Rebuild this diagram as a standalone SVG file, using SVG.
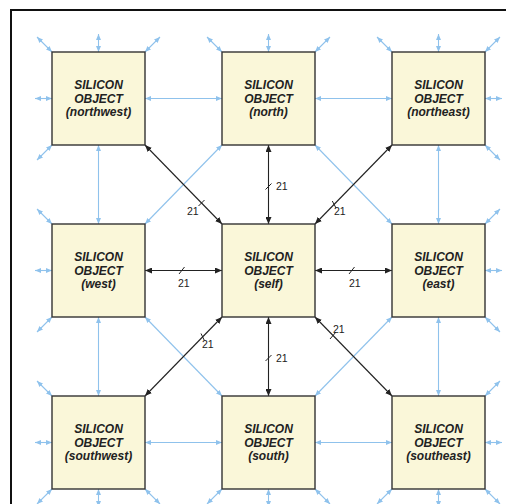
<svg xmlns="http://www.w3.org/2000/svg" width="506" height="504" viewBox="0 0 506 504">
<defs>
<marker id="ab" markerUnits="userSpaceOnUse" markerWidth="6" markerHeight="5" refX="6" refY="2.5" orient="auto-start-reverse"><path d="M0,0 L6,2.5 L0,5 z" fill="#8fc2ec"/></marker>
<marker id="ak" markerUnits="userSpaceOnUse" markerWidth="7" markerHeight="6" refX="7" refY="3" orient="auto-start-reverse"><path d="M0,0 L7,3 L0,6 z" fill="#222"/></marker>
</defs>
<style>
.box{fill:#faf7d9;stroke:#333;stroke-width:1.4}
.t{font-family:"Liberation Sans",Arial,sans-serif;font-size:12px;font-weight:bold;font-style:italic;fill:#222;text-anchor:middle}
.b{stroke:#8fc2ec;stroke-width:1.1;fill:none;marker-start:url(#ab);marker-end:url(#ab)}
.k{stroke:#222;stroke-width:1.1;fill:none;marker-start:url(#ak);marker-end:url(#ak)}
.tk{stroke:#222;stroke-width:1;fill:none}
.l{font-family:"Liberation Sans",Arial,sans-serif;font-size:10.5px;fill:#222}
</style>
<rect width="506" height="504" fill="#fff"/>
<path d="M11,504 V10 H506" fill="none" stroke="#111" stroke-width="2"/>
<g id="connectors">
<!-- blue grid -->
<path class="b" d="M145,98.5 H222"/>
<path class="b" d="M315,98.5 H392"/>
<path class="b" d="M145,442.5 H222"/>
<path class="b" d="M315,442.5 H392"/>
<path class="b" d="M98.5,145 V224"/>
<path class="b" d="M98.5,317 V396"/>
<path class="b" d="M438.5,145 V224"/>
<path class="b" d="M438.5,317 V396"/>
<path class="b" d="M222,145 L145,224"/>
<path class="b" d="M315,145 L392,224"/>
<path class="b" d="M145,317 L222,396"/>
<path class="b" d="M392,317 L315,396"/>
<!-- stubs NW -->
<path class="b" d="M52,52 L37,37"/>
<path class="b" d="M98.5,52 V34"/>
<path class="b" d="M145,52 L160,37"/>
<path class="b" d="M52,98.5 H35"/>
<path class="b" d="M52,145 L37,160"/>
<!-- N -->
<path class="b" d="M222,52 L207,37"/>
<path class="b" d="M268.5,52 V34"/>
<path class="b" d="M315,52 L330,37"/>
<!-- NE -->
<path class="b" d="M392,52 L377,37"/>
<path class="b" d="M438.5,52 V34"/>
<path class="b" d="M485,52 L500,37"/>
<path class="b" d="M485,98.5 H502"/>
<path class="b" d="M485,145 L500,160"/>
<!-- W -->
<path class="b" d="M52,224 L37,209"/>
<path class="b" d="M52,270.5 H35"/>
<path class="b" d="M52,317 L37,332"/>
<!-- E -->
<path class="b" d="M485,224 L500,209"/>
<path class="b" d="M485,270.5 H502"/>
<path class="b" d="M485,317 L500,332"/>
<!-- SW -->
<path class="b" d="M52,396 L37,381"/>
<path class="b" d="M52,442.5 H35"/>
<path class="b" d="M52,489 L37,504"/>
<path class="b" d="M98.5,489 V507"/>
<path class="b" d="M145,489 L160,504"/>
<!-- S -->
<path class="b" d="M222,489 L207,504"/>
<path class="b" d="M268.5,489 V507"/>
<path class="b" d="M315,489 L330,504"/>
<!-- SE -->
<path class="b" d="M485,396 L500,381"/>
<path class="b" d="M485,442.5 H502"/>
<path class="b" d="M485,489 L500,504"/>
<path class="b" d="M438.5,489 V507"/>
<path class="b" d="M392,489 L377,504"/>
<!-- black -->
<path class="k" d="M268.5,145 V224"/>
<path class="k" d="M268.5,317 V396"/>
<path class="k" d="M145,270.5 H222"/>
<path class="k" d="M315,270.5 H392"/>
<path class="k" d="M145,145 L222,224"/>
<path class="k" d="M392,145 L315,224"/>
<path class="k" d="M145,396 L222,317"/>
<path class="k" d="M392,396 L315,317"/>
<path class="tk" d="M265.5,189.5 L271.5,183.5"/>
<path class="tk" d="M265.5,361 L271.5,355"/>
<path class="tk" d="M179,274 L184.5,267"/>
<path class="tk" d="M349,274 L354.5,267"/>
<path class="tk" d="M198.5,206 L204.5,200"/>
<path class="tk" d="M332.3,201 L336,208"/>
<path class="tk" d="M201,333.5 L204.3,340.3"/>
<path class="tk" d="M330,339 L336,332"/>
<text class="l" x="276" y="190">21</text>
<text class="l" x="276" y="362">21</text>
<text class="l" x="178" y="287">21</text>
<text class="l" x="349" y="287">21</text>
<text class="l" x="187" y="215">21</text>
<text class="l" x="334" y="215">21</text>
<text class="l" x="202" y="348">21</text>
<text class="l" x="333" y="333">21</text>
</g>
<g id="northwest"><rect class="box" x="52" y="52" width="93" height="93"/><text class="t" x="98.5" y="89">SILICON</text><text class="t" x="98.5" y="102.5">OBJECT</text><text class="t" x="98.5" y="116">(northwest)</text></g>
<g id="north"><rect class="box" x="222" y="52" width="93" height="93"/><text class="t" x="268.5" y="89">SILICON</text><text class="t" x="268.5" y="102.5">OBJECT</text><text class="t" x="268.5" y="116">(north)</text></g>
<g id="northeast"><rect class="box" x="392" y="52" width="93" height="93"/><text class="t" x="438.5" y="89">SILICON</text><text class="t" x="438.5" y="102.5">OBJECT</text><text class="t" x="438.5" y="116">(northeast)</text></g>
<g id="west"><rect class="box" x="52" y="224" width="93" height="93"/><text class="t" x="98.5" y="261">SILICON</text><text class="t" x="98.5" y="274.5">OBJECT</text><text class="t" x="98.5" y="288">(west)</text></g>
<g id="self"><rect class="box" x="222" y="224" width="93" height="93"/><text class="t" x="268.5" y="261">SILICON</text><text class="t" x="268.5" y="274.5">OBJECT</text><text class="t" x="268.5" y="288">(self)</text></g>
<g id="east"><rect class="box" x="392" y="224" width="93" height="93"/><text class="t" x="438.5" y="261">SILICON</text><text class="t" x="438.5" y="274.5">OBJECT</text><text class="t" x="438.5" y="288">(east)</text></g>
<g id="southwest"><rect class="box" x="52" y="396" width="93" height="93"/><text class="t" x="98.5" y="433">SILICON</text><text class="t" x="98.5" y="446.5">OBJECT</text><text class="t" x="98.5" y="460">(southwest)</text></g>
<g id="south"><rect class="box" x="222" y="396" width="93" height="93"/><text class="t" x="268.5" y="433">SILICON</text><text class="t" x="268.5" y="446.5">OBJECT</text><text class="t" x="268.5" y="460">(south)</text></g>
<g id="southeast"><rect class="box" x="392" y="396" width="93" height="93"/><text class="t" x="438.5" y="433">SILICON</text><text class="t" x="438.5" y="446.5">OBJECT</text><text class="t" x="438.5" y="460">(southeast)</text></g>
</svg>
